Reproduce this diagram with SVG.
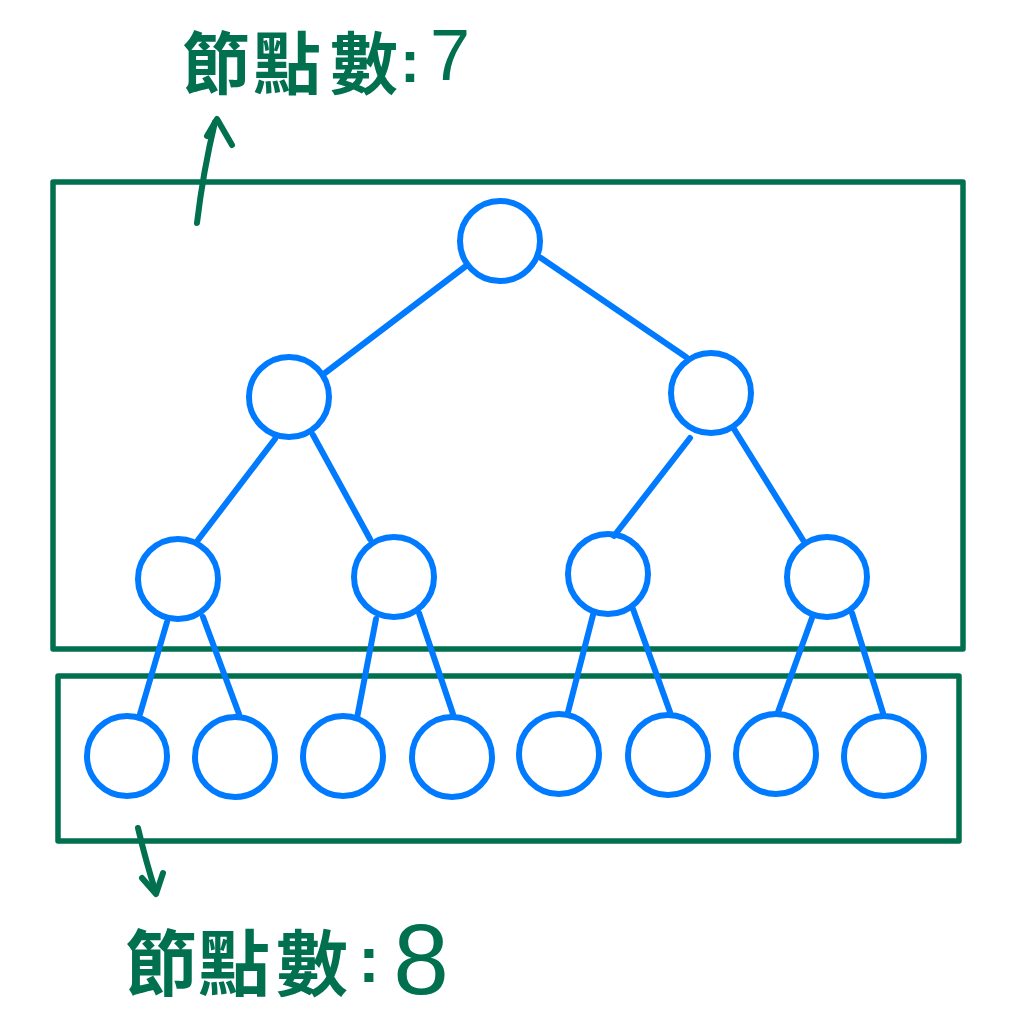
<svg xmlns="http://www.w3.org/2000/svg" width="1024" height="1019" viewBox="0 0 1024 1019">
<style>
.node{fill:none;stroke:#007AFF;stroke-width:6}
.edge{fill:none;stroke:#007AFF;stroke-width:6;stroke-linecap:round}
.box{fill:none;stroke:#00704F;stroke-width:5.5;stroke-linejoin:round}
.ink{fill:none;stroke:#00704F;stroke-width:6;stroke-linecap:round;stroke-linejoin:round}
.lbl{fill:#00704F;font-family:"Noto Sans CJK TC","Noto Sans CJK SC",sans-serif;font-weight:bold;text-anchor:middle}
.lat{font-family:"Liberation Sans",sans-serif;font-weight:normal}
.col{font-family:"Liberation Sans",sans-serif;font-weight:bold}
</style>
<rect width="1024" height="1019" fill="#ffffff"/>
<g id="groups">
<rect id="box-top" class="box" x="53" y="182" width="910" height="467"/>
<rect id="box-bottom" class="box" x="58" y="676" width="901" height="165"/>
</g>
<g id="connectors">
<line class="edge" x1="466" y1="266" x2="325" y2="373"/>
<line class="edge" x1="541" y1="258" x2="686" y2="357"/>
<line class="edge" x1="275" y1="439" x2="198" y2="540"/>
<line class="edge" x1="313" y1="435" x2="370" y2="539"/>
<line class="edge" x1="690" y1="438" x2="614" y2="536"/>
<line class="edge" x1="734" y1="429" x2="803" y2="540"/>
<line class="edge" x1="167" y1="622" x2="140" y2="714"/>
<line class="edge" x1="203" y1="617" x2="239" y2="714"/>
<line class="edge" x1="376" y1="619" x2="357" y2="718"/>
<line class="edge" x1="419" y1="613" x2="453" y2="714"/>
<line class="edge" x1="593" y1="615" x2="568" y2="712"/>
<line class="edge" x1="633" y1="609" x2="670" y2="712"/>
<line class="edge" x1="812" y1="618" x2="778" y2="712"/>
<line class="edge" x1="852" y1="613" x2="883" y2="713"/>
<path class="ink" d="M197,223 Q203,172 215,122"/>
<path class="ink" d="M207,136 L217,119 L232,145"/>
<path class="ink" d="M138,828 Q146,862 156,893"/>
<path class="ink" d="M142,878 L156,894 L163,873"/>
</g>
<g id="n-root"><circle class="node" cx="500" cy="241" r="40"/></g>
<g id="n-l"><circle class="node" cx="289" cy="397" r="40"/></g>
<g id="n-r"><circle class="node" cx="711" cy="393" r="40"/></g>
<g id="n-ll"><circle class="node" cx="178" cy="579" r="40"/></g>
<g id="n-lr"><circle class="node" cx="394" cy="577" r="40"/></g>
<g id="n-rl"><circle class="node" cx="608" cy="574" r="40"/></g>
<g id="n-rr"><circle class="node" cx="827" cy="577" r="40"/></g>
<g id="n-lll"><circle class="node" cx="127" cy="756" r="40"/></g>
<g id="n-llr"><circle class="node" cx="235" cy="757" r="40"/></g>
<g id="n-lrl"><circle class="node" cx="343" cy="756" r="40"/></g>
<g id="n-lrr"><circle class="node" cx="452" cy="757" r="40"/></g>
<g id="n-rll"><circle class="node" cx="559" cy="754" r="40"/></g>
<g id="n-rlr"><circle class="node" cx="668" cy="755" r="40"/></g>
<g id="n-rrl"><circle class="node" cx="776" cy="754" r="40"/></g>
<g id="n-rrr"><circle class="node" cx="884" cy="756" r="40"/></g>
<g id="label-top" class="lbl" font-size="68">
<text x="216" y="89">節</text>
<text x="287" y="89">點</text>
<text x="364" y="89">數</text>
<text x="410" y="82" class="col" font-size="60">:</text>
<text x="450" y="80" class="lat" font-size="72">7</text>
</g>
<g id="label-bottom" class="lbl" font-size="72">
<text x="161" y="990">節</text>
<text x="234" y="990">點</text>
<text x="312" y="990">數</text>
<text x="369" y="982" class="col" font-size="64">:</text>
<text x="421" y="994" class="lat" font-size="100">8</text>
</g>
</svg>
